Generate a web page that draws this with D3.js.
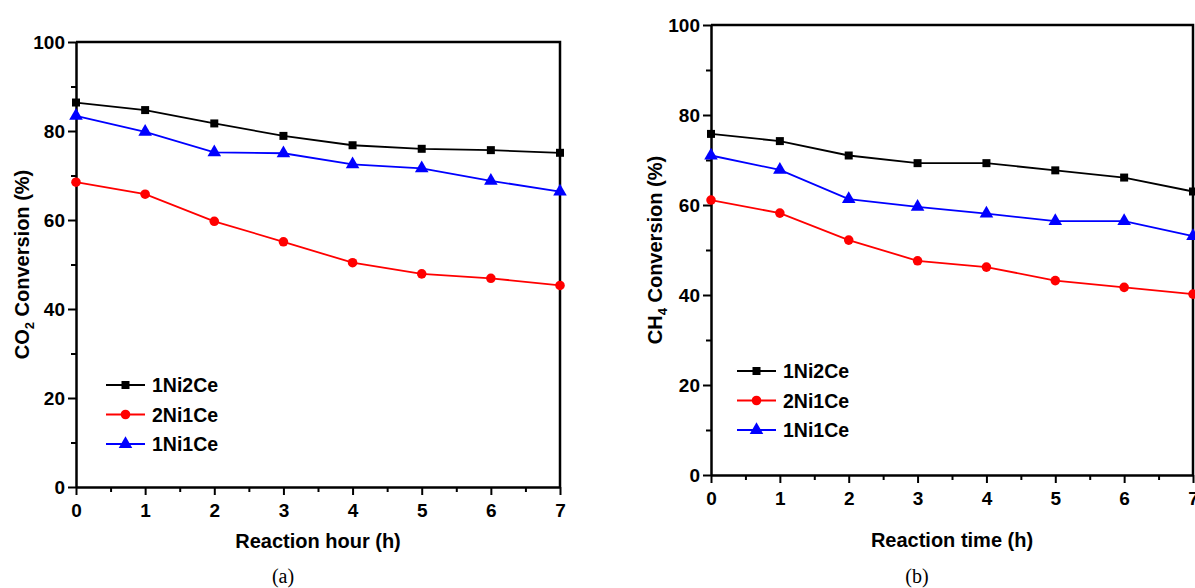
<!DOCTYPE html>
<html>
<head>
<meta charset="utf-8">
<script src="https://cdn.jsdelivr.net/npm/d3@7"></script>
<style>
  body { margin: 0; background: #fff; }
  svg { display: block; font-family: 'Liberation Sans', Arial, sans-serif; }
</style>
</head>
<body>
<svg id="chart" width="1195" height="588"></svg>
<script>
const hours = [0, 1, 2, 3, 4, 5, 6, 7];
const seriesNames = ['1Ni2Ce', '2Ni1Ce', '1Ni1Ce'];

// panel (a): CO2 conversion
const co2_1Ni2Ce = [86.4, 84.7, 81.7, 78.9, 76.8, 76.0, 75.7, 75.1];
const co2_2Ni1Ce = [68.5, 65.8, 59.7, 55.1, 50.4, 47.9, 46.9, 45.3];
const co2_1Ni1Ce = [83.4, 79.8, 75.2, 75.0, 72.5, 71.6, 68.8, 66.4];

// panel (b): CH4 conversion
const ch4_1Ni2Ce = [75.8, 74.2, 71.0, 69.3, 69.3, 67.7, 66.1, 63.0];
const ch4_2Ni1Ce = [61.1, 58.2, 52.2, 47.6, 46.2, 43.2, 41.7, 40.2];
const ch4_1Ni1Ce = [71.0, 67.8, 61.3, 59.6, 58.1, 56.4, 56.4, 53.1];

const yTicks = [0, 20, 40, 60, 80, 100];

const colors = ['#000000', '#ff0000', '#0000ff'];
const shapes = [d3.symbolSquare, d3.symbolCircle, d3.symbolTriangle];
const shapeSize = [64, 72, 80];

const svg = d3.select('#chart');

/// one panel: box, axes, lines, markers, legend
const drawPanel = (dim) => (seriesList) => {
  const x = d3.scaleLinear().domain([0, 7]).range([dim.left, dim.right]);
  const y = d3.scaleLinear().domain([0, 100]).range([dim.bottom, dim.top]);
  const g = svg.append('g');

  // minor ticks
  g.append('g')
    .attr('transform', `translate(0,${dim.bottom})`)
    .call(d3.axisBottom(x).tickValues(d3.range(0.5, 7, 1)).tickSize(5).tickFormat(''))
    .call((a) => a.select('.domain').remove())
    .selectAll('line').attr('stroke-width', 2);
  g.append('g')
    .attr('transform', `translate(${dim.left},0)`)
    .call(d3.axisLeft(y).tickValues(d3.range(10, 100, 20)).tickSize(5).tickFormat(''))
    .call((a) => a.select('.domain').remove())
    .selectAll('line').attr('stroke-width', 2);

  // major ticks
  const xa = g.append('g')
    .attr('transform', `translate(0,${dim.bottom})`)
    .call(d3.axisBottom(x).tickValues(hours).tickSize(8).tickSizeOuter(0).tickPadding(9).tickFormat(d3.format('d')));
  const ya = g.append('g')
    .attr('transform', `translate(${dim.left},0)`)
    .call(d3.axisLeft(y).tickValues(yTicks).tickSize(8).tickSizeOuter(0).tickPadding(3).tickFormat(d3.format('d')));
  [xa, ya].forEach((a) => {
    a.select('.domain').attr('stroke-width', 2.5);
    a.selectAll('line').attr('stroke-width', 2);
    a.selectAll('text')
      .attr('fill', '#000')
      .style('font-size', '19px')
      .style('font-weight', 'bold');
  });

  // top and right frame
  g.append('path')
    .attr('d', `M${dim.left},${dim.top}H${dim.right}V${dim.bottom}`)
    .attr('fill', 'none')
    .attr('stroke', '#000')
    .attr('stroke-width', 2.5);

  const line = d3.line().x((d) => x(d[0])).y((d) => y(d[1]));

  seriesList.forEach((values, i) => {
    const pts = hours.map((h, k) => [h, values[k]]);
    g.append('path')
      .datum(pts)
      .attr('d', line)
      .attr('fill', 'none')
      .attr('stroke', colors[i])
      .attr('stroke-width', 1.8);
    g.selectAll(null)
      .data(pts)
      .enter().append('path')
      .attr('transform', (d) => `translate(${x(d[0])},${y(d[1])})`)
      .attr('d', d3.symbol().type(shapes[i]).size(shapeSize[i]))
      .attr('fill', colors[i]);
  });

  // legend
  const lg = g.append('g');
  seriesNames.forEach((name, i) => {
    const ly = dim.legendY + i * 29.5;
    lg.append('line')
      .attr('x1', dim.legendX).attr('x2', dim.legendX + 39)
      .attr('y1', ly).attr('y2', ly)
      .attr('stroke', colors[i]).attr('stroke-width', 1.8);
    lg.append('path')
      .attr('transform', `translate(${dim.legendX + 19.5},${ly})`)
      .attr('d', d3.symbol().type(shapes[i]).size(shapeSize[i]))
      .attr('fill', colors[i]);
    lg.append('text')
      .attr('x', dim.legendX + 46).attr('y', ly + 7)
      .style('font-size', '19.5px').style('font-weight', 'bold')
      .text(name);
  });

  // axis titles
  g.append('text')
    .attr('x', (dim.left + dim.right) / 2)
    .attr('y', dim.xTitleY)
    .attr('text-anchor', 'middle')
    .style('font-size', '20px').style('font-weight', 'bold')
    .text(dim.xTitle);

  const yt = g.append('text')
    .attr('transform', `translate(${dim.yTitleX},${(dim.top + dim.bottom) / 2}) rotate(-90)`)
    .attr('text-anchor', 'middle')
    .style('font-size', '20px').style('font-weight', 'bold');
  yt.append('tspan').text(dim.gas[0]);
  yt.append('tspan').attr('dy', 5).style('font-size', '13px').text(dim.gas[1]);
  yt.append('tspan').attr('dy', -5).text(' Conversion (%)');

  // caption
  svg.append('text')
    .attr('x', dim.captionX).attr('y', 583)
    .attr('text-anchor', 'middle')
    .style('font-family', "'Liberation Serif', 'Times New Roman', serif")
    .style('font-size', '20px')
    .text(dim.caption);
};

drawPanel({
  left: 76, right: 560, top: 42, bottom: 487,
  legendX: 106, legendY: 385,
  xTitle: 'Reaction hour (h)', xTitleY: 548,
  yTitleX: 29, gas: ['CO', '2'],
  captionX: 283, caption: '(a)'
})([co2_1Ni2Ce, co2_2Ni1Ce, co2_1Ni1Ce]);

drawPanel({
  left: 711, right: 1193, top: 25, bottom: 475,
  legendX: 737, legendY: 371,
  xTitle: 'Reaction time (h)', xTitleY: 547,
  yTitleX: 662, gas: ['CH', '4'],
  captionX: 917, caption: '(b)'
})([ch4_1Ni2Ce, ch4_2Ni1Ce, ch4_1Ni1Ce]);
</script>
</body>
</html>
